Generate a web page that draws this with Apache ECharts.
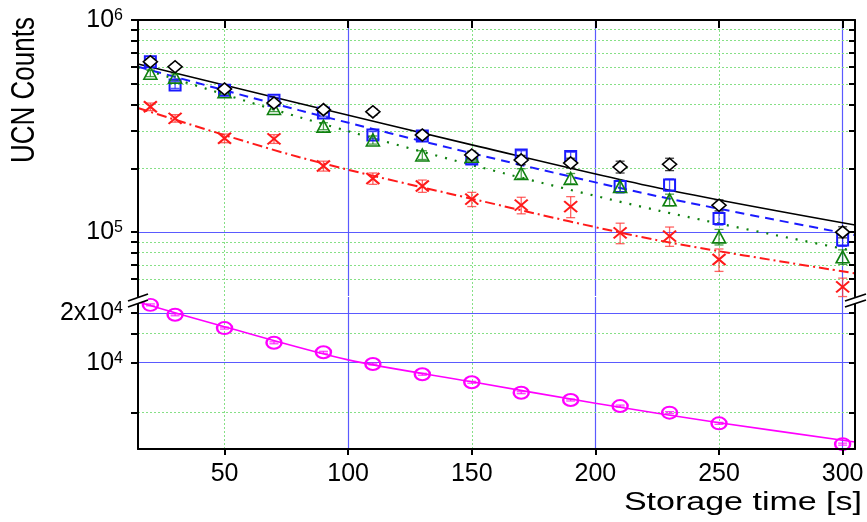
<!DOCTYPE html>
<html>
<head>
<meta charset="utf-8">
<script src="https://cdn.jsdelivr.net/npm/echarts@6/dist/echarts.min.js"></script>
<style>
  html, body { margin: 0; padding: 0; background: #fff; }
  #chart { width: 867px; height: 522px; }
</style>
</head>
<body>
<div id="chart"></div>
<script>
// storage times [s]
const times = [20, 30, 50, 70, 90, 110, 130, 150, 170, 190, 210, 230, 250, 300];

const diamondCounts = [636000, 602000, 473000, 406000, 378000, 369000, 287000, 231000, 219000, 212000, 203000, 209000, 134000, 100000];
const diamondErr    = [19000, 18000, 14000, 12000, 13000, 13000, 11000, 10000, 11000, 11000, 13000, 14000, 8000, 6000];
const squareCounts  = [636000, 494000, 467000, 419000, 364000, 287000, 284000, 221000, 231000, 227000, 164000, 167000, 116000, 91700];
const squareErr     = [19000, 18000, 14000, 13000, 12000, 11000, 11000, 10000, 11000, 11000, 11000, 11000, 8000, 6000];
const triangleCounts = [561000, 538000, 459000, 383000, 316000, 272000, 231000, 228000, 189000, 179000, 164000, 142000, 95000, 76500];
const triangleErr    = [20000, 19000, 15000, 13000, 12000, 12000, 11000, 11000, 10000, 10000, 10000, 9000, 8000, 6000];
const crossCounts   = [390000, 344000, 277000, 275000, 205000, 179000, 165000, 143000, 134000, 132000, 99200, 95700, 74300, 55200];
const crossErr      = [16000, 14000, 13000, 13000, 11000, 11000, 11000, 11000, 12000, 15000, 11000, 10000, 9000, 5500];
const circleCounts  = [22400, 19500, 16200, 13200, 11560, 9820, 8510, 7610, 6580, 5940, 5460, 4980, 4290, 3210];
const circleErr     = [300, 260, 220, 180, 160, 130, 115, 100, 90, 80, 75, 70, 60, 45];

// fit curves
const fitTimes = [15, 80, 153, 226, 305];
const diamondFit  = [620000, 405000, 253000, 161000, 108000];
const squareFit   = [602000, 376000, 231000, 147000, 96800];
const triangleFit = [598000, 349000, 203000, 126000, 81400];
const crossFit    = [385000, 226000, 141000, 91200, 64000];
const circleFitTimes = [15, 50, 100, 150, 200, 250, 305];
const circleFit   = [23300, 16500, 10400, 7670, 5680, 4330, 3310];

// axes
const xTicks = [50, 100, 150, 200, 250, 300];
const xMajor = [100, 200, 300];
const xMinor = [50, 150, 250];
const upperTicks = [60000, 70000, 80000, 90000, 100000, 200000, 300000, 400000, 500000, 600000, 700000, 800000, 900000, 1000000];
const upperLabels = [100000, 1000000];
const upperMajor = [100000];
const upperMinor = [60000, 70000, 80000, 90000, 200000, 300000, 400000, 500000, 600000, 700000, 800000, 900000];
const lowerTicks = [5000, 10000, 15000, 20000];
const lowerLabels = [10000, 20000];
const lowerMajor = [10000, 20000];
const lowerMinor = [5000, 15000];

const FONT = '"Liberation Sans", Arial, sans-serif';
const BLUE_GRID = '#5a5aff';
const GREEN_GRID = '#86e086';

function pair(xs, ys) { return xs.map((x, i) => [x, ys[i]]); }
function triple(xs, ys, es) { return xs.map((x, i) => [x, ys[i], es[i]]); }

function powLabel(v) {
  const e = Math.floor(Math.log10(v) + 1e-9);
  const m = Math.round(v / Math.pow(10, e));
  return (m > 1 ? '{b|' + m + 'x10}' : '{b|10}') + '{s|' + e + '}';
}

const labelRich = {
  b: { fontSize: 25, fontFamily: FONT, color: '#000' },
  s: { fontSize: 16, fontFamily: FONT, color: '#000', verticalAlign: 'top' }
};

function gridLines(xi, yi, hMajor, hMinor) {
  const major = { color: BLUE_GRID, width: 1.2, type: 'solid' };
  const minor = { color: GREEN_GRID, width: 1, type: [2, 2] };
  const data = [];
  xMajor.forEach(v => data.push({ xAxis: v, lineStyle: major }));
  xMinor.forEach(v => data.push({ xAxis: v, lineStyle: minor }));
  hMajor.forEach(v => data.push({ yAxis: v, lineStyle: major }));
  hMinor.forEach(v => data.push({ yAxis: v, lineStyle: minor }));
  return {
    type: 'line', xAxisIndex: xi, yAxisIndex: yi, data: [], silent: true,
    markLine: { z: 1, silent: true, symbol: ['none', 'none'], label: { show: false }, animation: false, data: data }
  };
}

function fitLine(xi, yi, xs, ys, color, type, width) {
  return {
    type: 'line', xAxisIndex: xi, yAxisIndex: yi, data: pair(xs, ys), smooth: 0.3,
    symbol: 'none', z: 2, silent: true,
    lineStyle: { color: color, width: width, type: type }
  };
}

function errorBars(xi, yi, ys, es, color) {
  return {
    type: 'custom', xAxisIndex: xi, yAxisIndex: yi, z: 3, silent: true,
    data: triple(times, ys, es),
    renderItem: function (params, api) {
      const x = api.value(0), y = api.value(1), e = api.value(2);
      const top = api.coord([x, y + e]);
      const bot = api.coord([x, y - e]);
      const hw = 4.5;
      const style = { stroke: color, lineWidth: 1.3, opacity: 0.75 };
      return {
        type: 'group', children: [
          { type: 'line', shape: { x1: top[0], y1: top[1], x2: bot[0], y2: bot[1] }, style: style },
          { type: 'line', shape: { x1: top[0] - hw, y1: top[1], x2: top[0] + hw, y2: top[1] }, style: style },
          { type: 'line', shape: { x1: bot[0] - hw, y1: bot[1], x2: bot[0] + hw, y2: bot[1] }, style: style }
        ]
      };
    }
  };
}

function markers(xi, yi, ys, symbol, size, color, fill, bw) {
  return {
    type: 'scatter', xAxisIndex: xi, yAxisIndex: yi, z: 4, silent: true,
    data: pair(times, ys), symbol: symbol, symbolSize: size,
    itemStyle: { color: fill, borderColor: color, borderWidth: bw, opacity: 1 }
  };
}

const chart = echarts.init(document.getElementById('chart'), null, { renderer: 'canvas' });

const option = {
  animation: false,
  backgroundColor: '#ffffff',
  grid: [
    { left: 138, right: 12, top: 20, height: 276, outerBoundsMode: 'none' },
    { left: 138, right: 12, top: 297, height: 152, outerBoundsMode: 'none' }
  ],
  xAxis: [
    {
      gridIndex: 0, type: 'value', min: 15, max: 305, position: 'top', z: 6,
      axisLine: { show: true, onZero: false, lineStyle: { color: '#000', width: 2 } },
      axisTick: { show: true, inside: true, length: 8, customValues: xTicks, lineStyle: { color: '#000', width: 2 } },
      axisLabel: { show: false },
      splitLine: { show: false }
    },
    {
      gridIndex: 1, type: 'value', min: 15, max: 305, position: 'bottom', z: 6,
      axisLine: { show: true, onZero: false, lineStyle: { color: '#000', width: 2 } },
      axisTick: { show: true, length: 6, customValues: xTicks, lineStyle: { color: '#000', width: 2 } },
      axisLabel: { customValues: xTicks, fontSize: 25, fontFamily: FONT, color: '#000', margin: 13 },
      splitLine: { show: false }
    }
  ],
  yAxis: [
    {
      gridIndex: 0, type: 'log', logBase: 10, min: 50000, max: 1000000, position: 'left', z: 6,
      axisLine: { show: true, onZero: false, lineStyle: { color: '#000', width: 2 } },
      axisTick: { show: true, length: 7, customValues: upperTicks, lineStyle: { color: '#000', width: 2 } },
      axisLabel: { customValues: upperLabels, formatter: powLabel, rich: labelRich, margin: 15 },
      splitLine: { show: false }, minorTick: { show: false }, minorSplitLine: { show: false }
    },
    {
      gridIndex: 0, type: 'log', logBase: 10, min: 50000, max: 1000000, position: 'right', z: 6,
      axisLine: { show: true, onZero: false, lineStyle: { color: '#000', width: 2 } },
      axisTick: { show: true, inside: true, length: 6, customValues: upperTicks, lineStyle: { color: '#000', width: 2 } },
      axisLabel: { show: false },
      splitLine: { show: false }
    },
    {
      gridIndex: 1, type: 'log', logBase: 10, min: 3000, max: 25000, position: 'left', z: 6,
      axisLine: { show: true, onZero: false, lineStyle: { color: '#000', width: 2 } },
      axisTick: { show: true, length: 7, customValues: lowerTicks, lineStyle: { color: '#000', width: 2 } },
      axisLabel: { customValues: lowerLabels, formatter: powLabel, rich: labelRich, margin: 15 },
      splitLine: { show: false }
    },
    {
      gridIndex: 1, type: 'log', logBase: 10, min: 3000, max: 25000, position: 'right', z: 6,
      axisLine: { show: true, onZero: false, lineStyle: { color: '#000', width: 2 } },
      axisTick: { show: true, inside: true, length: 6, customValues: lowerTicks, lineStyle: { color: '#000', width: 2 } },
      axisLabel: { show: false },
      splitLine: { show: false }
    }
  ],
  series: [
    gridLines(0, 0, upperMajor, upperMinor),
    gridLines(1, 2, lowerMajor, lowerMinor),

    fitLine(0, 0, fitTimes, diamondFit, '#000000', 'solid', 1.6),
    fitLine(0, 0, fitTimes, squareFit, '#1a1aff', [9, 6], 2),
    fitLine(0, 0, fitTimes, triangleFit, '#0f800f', [2, 8], 2.2),
    fitLine(0, 0, fitTimes, crossFit, '#ff1a1a', [10, 4, 2, 4], 2),
    fitLine(1, 2, circleFitTimes, circleFit, '#ff00ff', 'solid', 1.6),

    errorBars(0, 0, diamondCounts, diamondErr, '#000000'),
    errorBars(0, 0, squareCounts, squareErr, '#1a1aff'),
    errorBars(0, 0, triangleCounts, triangleErr, '#0f800f'),
    errorBars(0, 0, crossCounts, crossErr, '#ff3030'),
    errorBars(1, 2, circleCounts, circleErr, '#ff00ff'),

    markers(0, 0, squareCounts, 'rect', [11, 11], '#1a1aff', 'rgba(0,0,0,0)', 2),
    markers(0, 0, triangleCounts, 'triangle', [13, 12], '#0f800f', 'rgba(0,0,0,0)', 1.6),
    markers(0, 0, crossCounts, 'path://M0,0L10,10M10,0L0,10', [13, 11], '#ff1a1a', 'rgba(0,0,0,0)', 2),
    markers(0, 0, diamondCounts, 'diamond', [14, 12], '#000000', '#ffffff', 1.6),
    markers(1, 2, circleCounts, 'circle', [15, 12], '#ff00ff', 'rgba(0,0,0,0)', 2.2)
  ],
  graphic: [
    {
      type: 'text', x: 25, y: 90, rotation: Math.PI / 2, scaleY: 1.3, z: 10,
      style: { text: 'UCN Counts', font: '26px ' + FONT, fill: '#000', align: 'center', verticalAlign: 'middle' }
    },
    {
      type: 'text', x: 862, y: 503, scaleX: 1.36, z: 10,
      style: { text: 'Storage time [s]', font: '25px ' + FONT, fill: '#000', align: 'right', verticalAlign: 'middle' }
    },
    // axis break marks
    { type: 'polygon', z: 20, shape: { points: [[128, 301], [148, 294], [148, 300], [128, 307]] }, style: { fill: '#fff' } },
    { type: 'line', z: 21, shape: { x1: 128, y1: 301, x2: 148, y2: 294 }, style: { stroke: '#000', lineWidth: 1.8 } },
    { type: 'line', z: 21, shape: { x1: 128, y1: 307, x2: 148, y2: 300 }, style: { stroke: '#000', lineWidth: 1.8 } },
    { type: 'polygon', z: 20, shape: { points: [[845, 301], [866, 294], [866, 300], [845, 307]] }, style: { fill: '#fff' } },
    { type: 'line', z: 21, shape: { x1: 845, y1: 301, x2: 866, y2: 294 }, style: { stroke: '#000', lineWidth: 1.8 } },
    { type: 'line', z: 21, shape: { x1: 845, y1: 307, x2: 866, y2: 300 }, style: { stroke: '#000', lineWidth: 1.8 } }
  ]
};

chart.setOption(option);
</script>
</body>
</html>
